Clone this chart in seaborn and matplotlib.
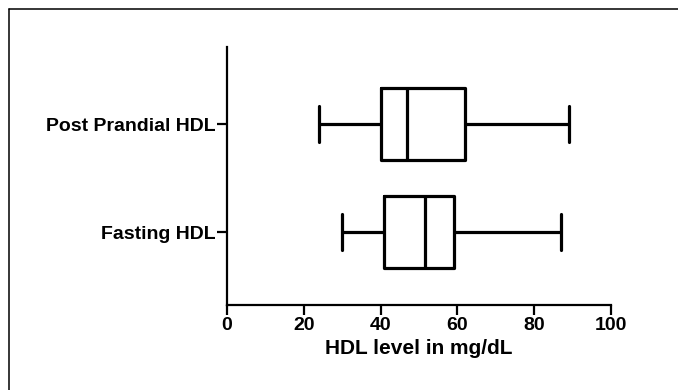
import matplotlib
matplotlib.use("Agg")
import matplotlib.pyplot as plt
import pandas as pd
import seaborn as sns

# five-number summaries (min, q1, median, q3, max)
categories = ["Post Prandial HDL", "Fasting HDL"]
post_prandial = [24, 40, 47, 62, 89]
fasting = [30, 41, 51.5, 59, 87]
x_ticks = [0, 20, 40, 60, 80, 100]

df = pd.DataFrame(
    {
        "group": [categories[0]] * len(post_prandial) + [categories[1]] * len(fasting),
        "hdl": post_prandial + fasting,
    }
)

sns.set_style("ticks")
plt.rcParams["font.family"] = ["Liberation Sans", "DejaVu Sans"]
plt.rcParams["font.weight"] = "bold"
plt.rcParams["text.color"] = "black"
plt.rcParams["xtick.color"] = "black"
plt.rcParams["ytick.color"] = "black"
plt.rcParams["axes.labelcolor"] = "black"

fig = plt.figure(figsize=(6.78, 3.9), dpi=100)
ax = fig.add_axes([0.3348, 0.2179, 0.5664, 0.6616])

lw = 2.3
sns.boxplot(
    data=df,
    x="hdl",
    y="group",
    order=categories,
    orient="h",
    whis=(0, 100),
    width=0.66,
    fill=False,
    color="black",
    linecolor="black",
    linewidth=lw,
    capwidths=0.34,
    ax=ax,
)

ax.set_xlim(0, 100)
ax.set_ylim(1.676, -0.713)
ax.set_xticks(x_ticks)
ax.set_xlabel("HDL level in mg/dL", fontsize=15, fontweight="bold", labelpad=4)
ax.set_ylabel("")
sns.despine(ax=ax)
for side in ["left", "bottom"]:
    ax.spines[side].set_linewidth(1.6)
    ax.spines[side].set_color("black")
ax.tick_params(axis="both", width=1.6, length=7, color="black", labelcolor="black",
               labelsize=14, pad=1.5)
for lab in ax.get_xticklabels() + ax.get_yticklabels():
    lab.set_fontweight("bold")

# thin frame on the top and left of the picture
fig.add_artist(plt.Line2D([9 / 678, 9 / 678], [0, 1 - 9 / 390], color="black", lw=1.1))
fig.add_artist(plt.Line2D([9 / 678, 1], [1 - 9 / 390, 1 - 9 / 390], color="black", lw=1.1))

fig.savefig("out.png", dpi=100)
